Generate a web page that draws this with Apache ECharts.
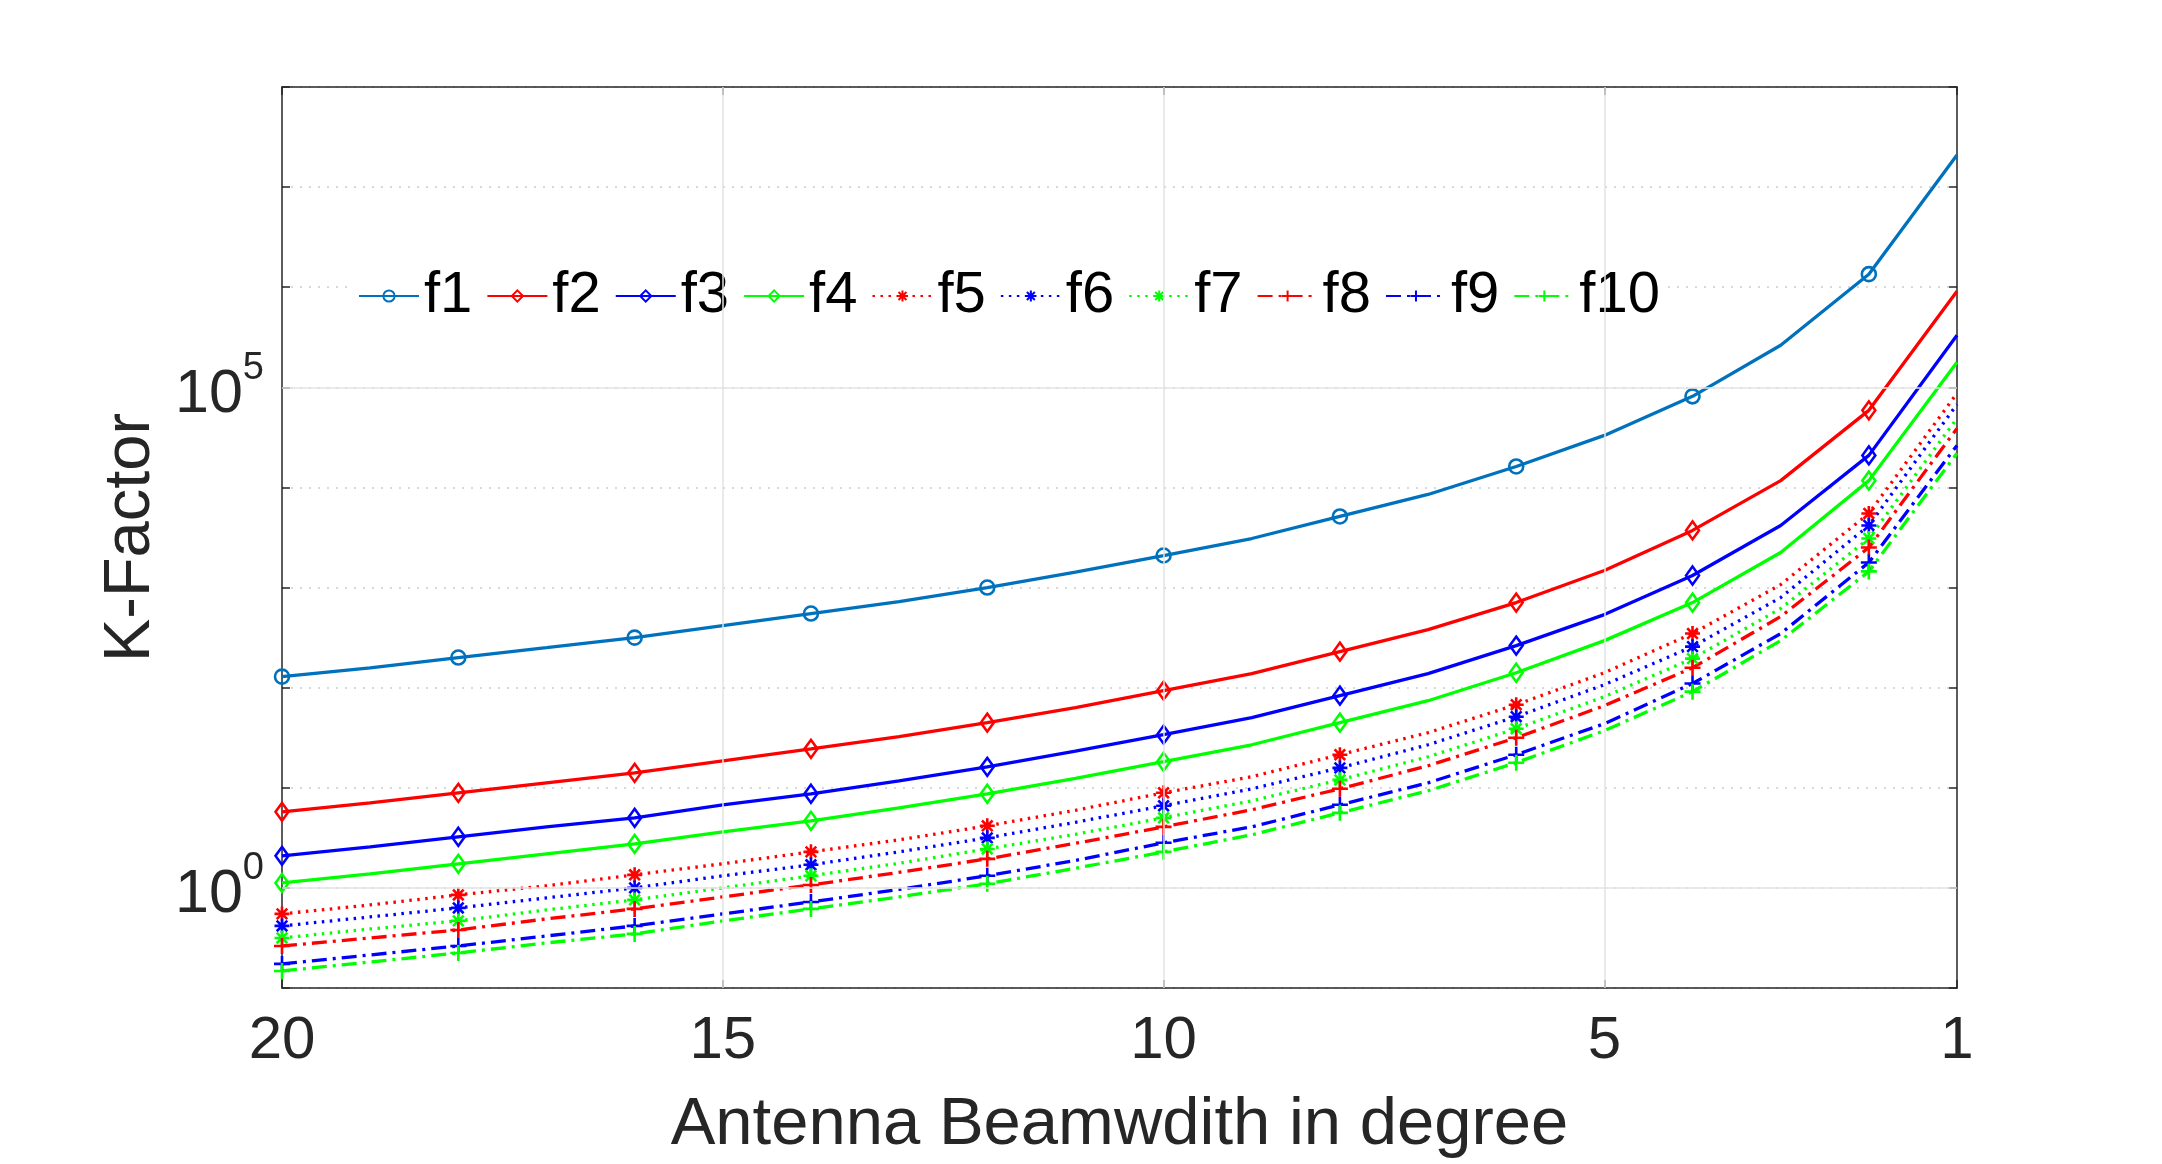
<!DOCTYPE html>
<html>
<head>
<meta charset="utf-8">
<title>K-Factor vs Antenna Beamwidth</title>
<script src="https://cdn.jsdelivr.net/npm/echarts@6/dist/echarts.min.js"></script>
<style>
    html, body { margin: 0; padding: 0; background: #fff; }
    #chart { width: 2162px; height: 1164px; }
</style>
</head>
<body>
<div id="chart"></div>
<script>
// beamwidth in degree, one point per degree (markers every 2nd point)
var beamwidth = [20, 19, 18, 17, 16, 15, 14, 13, 12, 11, 10, 9, 8, 7, 6, 5, 4, 3, 2, 1];
var xTicks = [20, 15, 10, 5, 1];
var yLabelPowers = [0, 5];   // only 10^0 and 10^5 carry a label

// K-Factor values
var f1  = [129, 158, 200, 251, 316, 417, 550, 724, 1000, 1430, 2090, 3090, 5130, 8510, 16200, 33100, 81300, 263000, 1350000, 20900000];
var f2  = [5.75, 7.08, 8.91, 11.2, 14.1, 18.6, 24.5, 32.4, 44.7, 63.1, 93.3, 138, 229, 380, 708, 1480, 3720, 11700, 58900, 912000];
var f3  = [2.09, 2.57, 3.24, 4.07, 5.01, 6.76, 8.71, 11.7, 16.2, 23.2, 33.9, 50.1, 83.2, 138, 263, 537, 1320, 4170, 20900, 331000];
var f4  = [1.12, 1.38, 1.74, 2.19, 2.75, 3.63, 4.68, 6.31, 8.71, 12.4, 18.2, 26.9, 44.7, 74.1, 141, 295, 708, 2240, 11700, 178000];
var f5  = [0.550, 0.676, 0.851, 1.05, 1.35, 1.74, 2.29, 3.02, 4.17, 5.96, 8.91, 12.9, 21.4, 35.5, 67.6, 141, 347, 1070, 5500, 87100];
var f6  = [0.417, 0.513, 0.631, 0.794, 1.00, 1.32, 1.70, 2.29, 3.16, 4.52, 6.61, 9.77, 15.8, 26.9, 51.3, 107, 257, 794, 4170, 67600];
var f7  = [0.316, 0.389, 0.468, 0.603, 0.759, 1.00, 1.32, 1.76, 2.45, 3.43, 5.01, 7.41, 12.0, 20.4, 38.9, 81.3, 195, 617, 3090, 49000];
var f8  = [0.263, 0.316, 0.380, 0.490, 0.617, 0.813, 1.07, 1.43, 1.95, 2.79, 4.07, 6.03, 9.77, 16.6, 31.6, 66.1, 158, 513, 2510, 38900];
var f9  = [0.174, 0.214, 0.263, 0.331, 0.417, 0.550, 0.724, 0.966, 1.32, 1.88, 2.82, 4.07, 6.76, 11.2, 21.4, 43.7, 110, 347, 1780, 26300];
var f10 = [0.148, 0.182, 0.224, 0.282, 0.347, 0.468, 0.617, 0.813, 1.10, 1.57, 2.29, 3.39, 5.62, 9.33, 17.8, 37.2, 91.2, 295, 1450, 21900];

var seriesNames = ['f1', 'f2', 'f3', 'f4', 'f5', 'f6', 'f7', 'f8', 'f9', 'f10'];
var seriesValues = [f1, f2, f3, f4, f5, f6, f7, f8, f9, f10];

var FONT = 'Liberation Sans, Arial, Helvetica, sans-serif';
var AXIS_COLOR = '#262626';

// marker shapes (matlab like: o, d, *, +)
var STAR = 'path://M0,-10L0,10M-10,0L10,0M-7.07,-7.07L7.07,7.07M-7.07,7.07L7.07,-7.07';
var PLUS = 'path://M0,-10L0,10M-10,0L10,0';
var DOT = [2.5, 5.5];
var DASHDOT = [15, 6, 3, 6];

var styles = [
    { color: '#0072BD', symbol: 'circle',  size: 14,       type: 'solid' },
    { color: '#FF0000', symbol: 'diamond', size: [13, 18], type: 'solid' },
    { color: '#0000FF', symbol: 'diamond', size: [13, 18], type: 'solid' },
    { color: '#00FF00', symbol: 'diamond', size: [13, 18], type: 'solid' },
    { color: '#FF0000', symbol: STAR,      size: 15,       type: DOT },
    { color: '#0000FF', symbol: STAR,      size: 15,       type: DOT },
    { color: '#00FF00', symbol: STAR,      size: 15,       type: DOT },
    { color: '#FF0000', symbol: PLUS,      size: 16,       type: DASHDOT },
    { color: '#0000FF', symbol: PLUS,      size: 16,       type: DASHDOT },
    { color: '#00FF00', symbol: PLUS,      size: 16,       type: DASHDOT }
];

function buildData(values) {
    return beamwidth.map(function (x, i) {
        var item = { value: [x, values[i]] };
        if (x % 2 !== 0) item.symbol = 'none';   // markers only on even degrees
        return item;
    });
}

var series = seriesNames.map(function (name, k) {
    var s = styles[k];
    return {
        name: name,
        type: 'line',
        xAxisIndex: 0,
        yAxisIndex: 0,
        data: buildData(seriesValues[k]),
        symbol: s.symbol,
        symbolSize: s.size,
        showAllSymbol: true,
        lineStyle: { color: s.color, width: 3.3, type: s.type, cap: 'butt' },
        itemStyle: { color: 'rgba(0,0,0,0)', borderColor: s.color, borderWidth: 2.6 },
        emphasis: { disabled: true },
        z: 3
    };
});

// solid light grid at labelled x ticks and at 10^0 / 10^5
var gridMarks = [];
[15, 10, 5].forEach(function (v) { gridMarks.push({ xAxis: v }); });
yLabelPowers.forEach(function (p) { gridMarks.push({ yAxis: Math.pow(10, p) }); });
series.push({
    name: 'grid',
    type: 'line',
    data: [],
    symbol: 'none',
    silent: true,
    z: 1,
    markLine: {
        silent: true,
        symbol: 'none',
        label: { show: false },
        lineStyle: { color: '#e3e3e3', width: 1.5, type: 'solid' },
        data: gridMarks,
        animation: false
    }
});

var tickStyle = { show: true, inside: true, length: 8, lineStyle: { color: AXIS_COLOR, width: 1.5 } };

var option = {
    animation: false,
    backgroundColor: '#fff',
    grid: { left: 282, top: 87, width: 1675, height: 910, containLabel: false },
    legend: {
        data: seriesNames,
        left: 348,
        top: 257,
        orient: 'horizontal',
        backgroundColor: '#fff',
        padding: [10, 8, 11, 10],
        itemWidth: 60,
        itemHeight: 14,
        itemGap: 14,
        textStyle: { fontSize: 58, color: '#000', fontFamily: FONT },
        selectedMode: false
    },
    xAxis: [{
        type: 'value',
        position: 'bottom',
        inverse: true,
        min: 1,
        max: 20,
        name: 'Antenna Beamwdith in degree',
        nameLocation: 'middle',
        nameGap: 104,
        nameTextStyle: { fontSize: 67, color: AXIS_COLOR, fontFamily: FONT },
        axisLine: { show: true, lineStyle: { color: AXIS_COLOR, width: 1.5 } },
        axisTick: { show: true, inside: true, length: 8, customValues: xTicks, lineStyle: { color: AXIS_COLOR, width: 1.5 } },
        axisLabel: { customValues: xTicks, fontSize: 60, color: AXIS_COLOR, fontFamily: FONT, margin: 23 },
        splitLine: { show: false }
    }, {
        type: 'value',
        position: 'top',
        inverse: true,
        min: 1,
        max: 20,
        axisLine: { show: true, onZero: false, lineStyle: { color: AXIS_COLOR, width: 1.5 } },
        axisTick: { show: true, inside: true, length: 8, customValues: xTicks, lineStyle: { color: AXIS_COLOR, width: 1.5 } },
        axisLabel: { show: false },
        splitLine: { show: false }
    }],
    yAxis: [{
        type: 'log',
        logBase: 10,
        position: 'left',
        min: 0.1,
        max: 1e8,
        splitNumber: 9,
        name: 'K-Factor',
        nameLocation: 'middle',
        nameGap: 118,
        nameTextStyle: { fontSize: 65, color: AXIS_COLOR, fontFamily: FONT },
        axisLine: { show: true, onZero: false, lineStyle: { color: AXIS_COLOR, width: 1.5 } },
        axisTick: tickStyle,
        axisLabel: {
            margin: 18,
            color: AXIS_COLOR,
            fontFamily: FONT,
            formatter: function (v) {
                var p = Math.round(Math.log10(v));
                return yLabelPowers.indexOf(p) >= 0 ? '{b|10}{s|' + p + '}' : '';
            },
            rich: {
                b: { fontSize: 61, fontFamily: FONT, color: AXIS_COLOR, verticalAlign: 'bottom' },
                s: { fontSize: 38, fontFamily: FONT, color: AXIS_COLOR, verticalAlign: 'bottom', padding: [0, 0, 38, 0] }
            }
        },
        splitLine: { show: true, lineStyle: { color: '#cccccc', width: 1.5, type: [2, 7] } }
    }, {
        type: 'log',
        logBase: 10,
        position: 'right',
        min: 0.1,
        max: 1e8,
        splitNumber: 9,
        axisLine: { show: true, onZero: false, lineStyle: { color: AXIS_COLOR, width: 1.5 } },
        axisTick: tickStyle,
        axisLabel: { show: false },
        splitLine: { show: false }
    }],
    series: series
};

var chart = echarts.init(document.getElementById('chart'));
chart.setOption(option);
window.onresize = function () {
    chart.resize();
};
</script>
</body>
</html>
